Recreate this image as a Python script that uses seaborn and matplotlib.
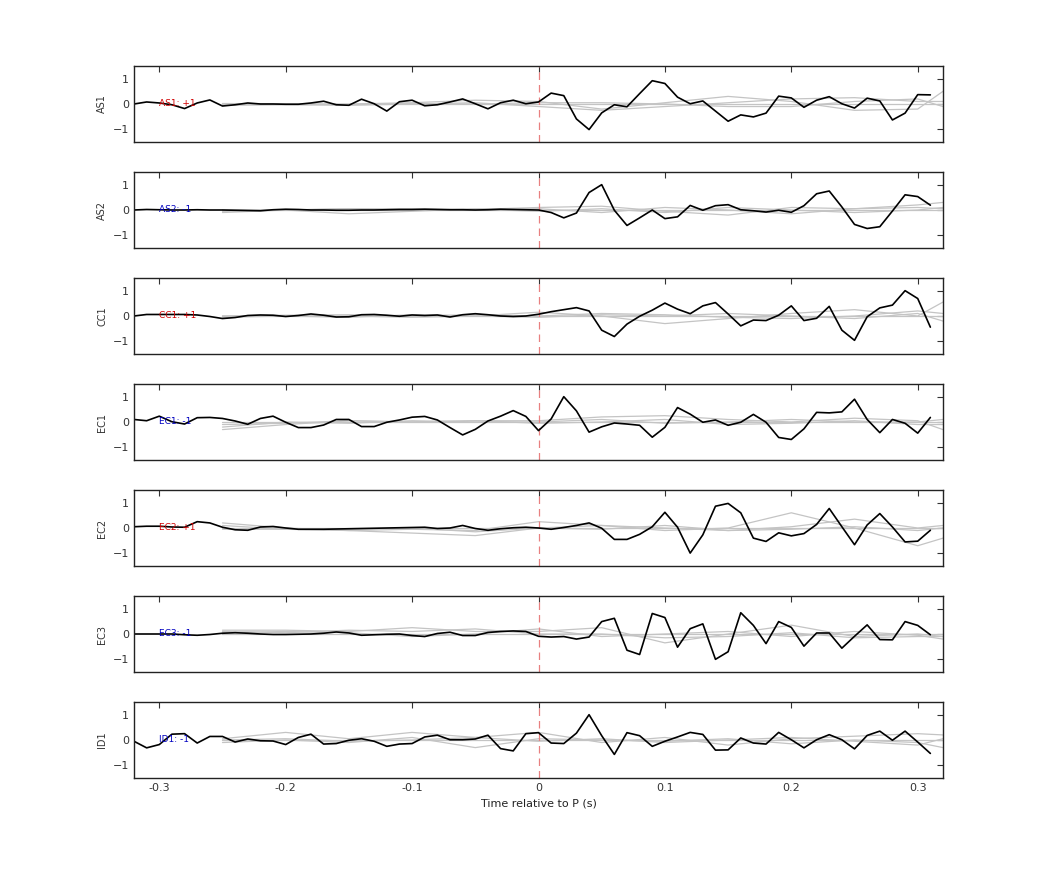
import numpy as np
import pandas as pd
import matplotlib
matplotlib.use("Agg")
import matplotlib.pyplot as plt
import seaborn as sns

sns.set_style("white")
plt.rcParams['font.family'] = ['DejaVu Sans']

stations = ["AS1", "AS2", "CC1", "EC1", "EC2", "EC3", "ID1"]
polarity = ["+1", "-1", "+1", "-1", "+1", "-1", "-1"]
times = [round(-0.32 + 0.01 * i, 2) for i in range(64)]

AS1 = [0, 0.08, 0.04, -0.03, -0.18, 0.04, 0.16, -0.08, -0.03, 0.04, 0, 0, -0.01, -0.01, 0.04, 0.11,
       -0.03, -0.05, 0.19, 0.01, -0.28, 0.09, 0.15, -0.07, -0.03, 0.08, 0.2, 0.01, -0.19, 0.05, 0.15, 0.01,
       0.08, 0.43, 0.33, -0.59, -1.01, -0.35, -0.03, -0.11, 0.41, 0.92, 0.81, 0.27, 0.01, 0.12, -0.28, -0.68,
       -0.43, -0.51, -0.36, 0.31, 0.24, -0.13, 0.15, 0.29, 0.01, -0.16, 0.23, 0.12, -0.63, -0.36, 0.37, 0.36]
AS2 = [0, 0.02, 0.01, 0, 0, 0.01, 0, 0, -0.01, -0.02, -0.03, 0.01, 0.03, 0.02, 0, 0,
       -0.01, -0.01, 0, 0, 0.01, 0.02, 0.02, 0.03, 0.02, 0.01, 0.01, 0, 0.01, 0.03, 0.02, 0.01,
       0.0, -0.1, -0.31, -0.12, 0.69, 1.0, -0.01, -0.61, -0.31, 0, -0.34, -0.27, 0.18, -0.01, 0.17, 0.21,
       0.01, -0.03, -0.08, -0.01, -0.09, 0.17, 0.64, 0.75, 0.12, -0.57, -0.73, -0.66, -0.04, 0.6, 0.53, 0.19]
CC1 = [0, 0.06, 0.06, 0.06, 0.06, 0.04, -0.02, -0.1, -0.06, 0.02, 0.04, 0.03, -0.02, 0.02, 0.08, 0.03,
       -0.04, -0.03, 0.05, 0.06, 0.03, -0.01, 0.04, 0.02, 0.04, -0.04, 0.05, 0.09, 0.05, 0.0, -0.02, 0.0,
       0.07, 0.17, 0.25, 0.33, 0.2, -0.56, -0.81, -0.32, -0.01, 0.23, 0.51, 0.27, 0.09, 0.4, 0.53, 0.08,
       -0.39, -0.16, -0.18, 0.03, 0.4, -0.18, -0.09, 0.38, -0.56, -0.96, -0.03, 0.32, 0.43, 1.0, 0.69, -0.44]
EC1 = [0.1, 0.05, 0.23, 0.01, -0.08, 0.17, 0.18, 0.14, 0.04, -0.09, 0.14, 0.23, -0.01, -0.22, -0.22, -0.12,
       0.1, 0.1, -0.18, -0.18, -0.01, 0.08, 0.19, 0.22, 0.08, -0.22, -0.51, -0.29, 0.04, 0.23, 0.45, 0.22,
       -0.34, 0.12, 1.0, 0.44, -0.4, -0.19, -0.04, -0.08, -0.13, -0.6, -0.21, 0.57, 0.31, -0.01, 0.08, -0.13,
       -0.01, 0.3, -0.01, -0.61, -0.69, -0.27, 0.38, 0.36, 0.4, 0.9, 0.1, -0.42, 0.1, -0.05, -0.44, 0.18]
EC2 = [0.05, 0.07, 0.07, 0.04, 0.03, 0.25, 0.2, 0.03, -0.07, -0.09, 0.04, 0.06, 0.0, -0.05, -0.05, -0.05,
       -0.04, -0.03, -0.02, -0.01, 0.0, 0.01, 0.02, 0.03, -0.02, 0.0, 0.1, -0.02, -0.09, -0.03, 0.01, 0.03,
       0.0, -0.05, 0.02, 0.1, 0.2, -0.01, -0.45, -0.45, -0.25, 0.05, 0.62, 0.03, -0.99, -0.27, 0.86, 0.97,
       0.6, -0.4, -0.53, -0.19, -0.31, -0.22, 0.14, 0.77, 0.05, -0.66, 0.12, 0.57, 0.04, -0.55, -0.52, -0.09]
EC3 = [0, 0, 0, 0, -0.03, -0.05, -0.02, 0.03, 0.05, 0.03, 0.0, -0.02, -0.02, -0.01, 0.0, 0.03,
       0.08, 0.04, -0.05, -0.03, -0.01, 0.0, -0.06, -0.1, 0.02, 0.07, -0.06, -0.06, 0.06, 0.1, 0.12, 0.1,
       -0.09, -0.12, -0.1, -0.2, -0.12, 0.49, 0.62, -0.64, -0.81, 0.81, 0.65, -0.52, 0.21, 0.4, -1.0, -0.7,
       0.84, 0.34, -0.38, 0.49, 0.26, -0.48, 0.04, 0.04, -0.56, -0.09, 0.36, -0.22, -0.23, 0.49, 0.34, -0.03]
ID1 = [-0.05, -0.31, -0.18, 0.23, 0.25, -0.12, 0.14, 0.14, -0.08, 0.04, -0.03, -0.04, -0.18, 0.1, 0.23, -0.16,
       -0.14, -0.01, 0.05, -0.05, -0.25, -0.16, -0.14, 0.12, 0.19, 0.01, 0.01, 0.04, 0.19, -0.34, -0.43, 0.25,
       0.29, -0.12, -0.14, 0.27, 1.0, 0.17, -0.57, 0.29, 0.17, -0.25, -0.05, 0.12, 0.3, 0.22, -0.4, -0.39,
       0.08, -0.12, -0.16, 0.3, 0.01, -0.31, 0.01, 0.21, 0.01, -0.35, 0.18, 0.35, -0.01, 0.35, -0.08, -0.53]
traces = [AS1, AS2, CC1, EC1, EC2, EC3, ID1]

# synthetic (gray) traces, coarse grid
gtimes = [-0.25, -0.20, -0.15, -0.10, -0.05, 0.0, 0.05, 0.10, 0.15, 0.20, 0.25, 0.30, 0.32]
gray = {
    "AS1": [[0, 0, 0, 0.05, 0.15, 0.1, -0.2, 0.05, 0.3, 0.1, -0.25, -0.2, 0.5],
            [-0.05, -0.03, -0.05, 0.0, 0.05, -0.1, -0.25, -0.1, 0.05, 0.2, 0.25, 0.1, 0.1],
            [0, 0, 0, 0, 0, 0, 0, 0, 0, 0, 0, 0, 0],
            [0.02, 0.0, -0.02, 0.02, 0.0, 0.05, 0.05, 0.0, -0.1, -0.1, 0.1, 0.2, -0.1]],
    "AS2": [[-0.1, 0, 0.05, 0.05, 0.02, 0.1, 0.15, -0.05, -0.2, 0.1, 0.05, 0.2, 0.3],
            [-0.05, 0.0, -0.15, -0.05, 0.05, 0.05, -0.1, 0.1, 0.0, -0.15, 0.05, 0.1, 0.05],
            [0, 0, 0, 0, 0, 0, 0, 0, 0, 0, 0, 0, 0],
            [0, 0, 0.05, 0, 0.03, -0.05, 0.05, -0.1, 0.1, 0.0, -0.1, 0.0, 0.1]],
    "CC1": [[0, 0, 0, -0.05, 0.0, 0.15, 0.0, -0.3, -0.1, 0.1, 0.25, 0.0, 0.55],
            [0, 0.03, 0.05, 0.0, 0.05, 0.0, 0.1, 0.05, -0.05, -0.1, 0.0, 0.2, 0.1],
            [0, 0, 0, 0, 0, 0, 0, 0, 0, 0, 0, 0, 0],
            [-0.05, 0.0, -0.05, 0.05, 0.0, -0.05, 0.05, 0.0, 0.1, 0.0, -0.1, 0.1, -0.2]],
    "EC1": [[-0.3, -0.1, 0.05, 0.0, 0.05, 0.05, 0.2, 0.25, 0.1, 0.0, 0.15, 0.05, -0.3],
            [-0.2, 0.0, -0.05, 0.05, 0.0, 0.0, 0.1, -0.05, 0.0, 0.1, 0.0, 0.0, 0.1],
            [0, 0, 0, 0, 0, 0, 0, 0, 0, 0, 0, 0, 0],
            [-0.1, -0.05, 0.05, 0.0, 0.05, -0.05, 0.0, 0.1, -0.1, -0.05, 0.05, -0.1, -0.1]],
    "EC2": [[0.2, 0.0, -0.1, -0.05, -0.1, 0.25, 0.1, -0.1, 0.0, 0.6, 0.0, -0.7, -0.4],
            [0.1, -0.05, -0.05, 0.0, -0.15, 0.0, -0.05, 0.1, -0.1, 0.05, 0.35, 0.0, 0.1],
            [0, 0, 0, 0, 0, 0, 0, 0, 0, 0, 0, 0, 0],
            [-0.05, -0.05, -0.1, -0.2, -0.3, 0.0, 0.1, 0.0, -0.1, -0.05, 0.05, -0.1, 0.0]],
    "EC3": [[0.15, 0.15, 0.1, 0.25, 0.1, 0.1, 0.25, -0.35, 0.0, 0.35, -0.1, 0.0, -0.1],
            [0.05, 0.1, 0.05, -0.1, 0.0, 0.2, -0.1, 0.0, 0.1, -0.1, 0.1, -0.05, -0.2],
            [0, 0, 0, 0, 0, 0, 0, 0, 0, 0, 0, 0, 0],
            [0.1, 0.05, 0.15, 0.1, 0.2, 0.0, 0.0, -0.15, -0.1, 0.05, -0.15, -0.1, -0.1]],
    "ID1": [[0.05, 0.3, 0.05, 0.3, 0.1, 0.3, -0.1, 0.1, -0.2, 0.05, 0.15, 0.25, 0.2],
            [-0.1, 0.0, -0.1, 0.1, -0.3, 0.05, 0.0, -0.05, 0.05, -0.15, 0.0, -0.1, -0.3],
            [0, 0, 0, 0, 0, 0, 0, 0, 0, 0, 0, 0, 0],
            [0.0, 0.05, -0.05, 0.0, 0.1, -0.05, 0.05, -0.1, 0.0, 0.1, -0.05, -0.2, 0.05]],
}

W, H = 1042, 875
fig = plt.figure(figsize=(W / 100, H / 100), dpi=100)
left, right = 134, 943
tops = [66, 172, 278, 384, 490, 596, 702]
ph = 76

for i, st in enumerate(stations):
    ax = fig.add_axes([left / W, 1 - (tops[i] + ph) / H, (right - left) / W, ph / H])
    for g in gray[st]:
        sns.lineplot(x=gtimes, y=g, ax=ax, color="#c4c4c4", lw=0.9, legend=False)
    ax.axvline(0, color="#e88080", lw=0.9, ls=(0, (6, 4)))
    df = pd.DataFrame({"t": times, "v": traces[i]})
    sns.lineplot(data=df, x="t", y="v", ax=ax, color="black", lw=1.2, legend=False)
    col = "#d00000" if polarity[i] == "+1" else "#0000c0"
    ax.text(-0.30, 0, f"{st}: {polarity[i]}", color=col, fontsize=6.5, va="center", ha="left")
    ax.set_xlim(-0.32, 0.32)
    ax.set_ylim(-1.5, 1.5)
    ax.set_yticks([-1, 0, 1])
    ax.set_xticks([-0.3, -0.2, -0.1, 0, 0.1, 0.2, 0.3])
    ax.tick_params(direction="in", top=True, right=True, length=4, labelsize=8, colors="#333333")
    ax.set_ylabel(st, fontsize=7, color="#333333")
    ax.set_xlabel("")
    for s in ax.spines.values():
        s.set_color("#222222")
        s.set_linewidth(1.0)
    if i < len(stations) - 1:
        ax.set_xticklabels([])
    else:
        ax.set_xticklabels(["-0.3", "-0.2", "-0.1", "0", "0.1", "0.2", "0.3"])
        ax.set_xlabel("Time relative to P (s)", fontsize=8, color="#222222")

fig.savefig("out.png", dpi=100)
